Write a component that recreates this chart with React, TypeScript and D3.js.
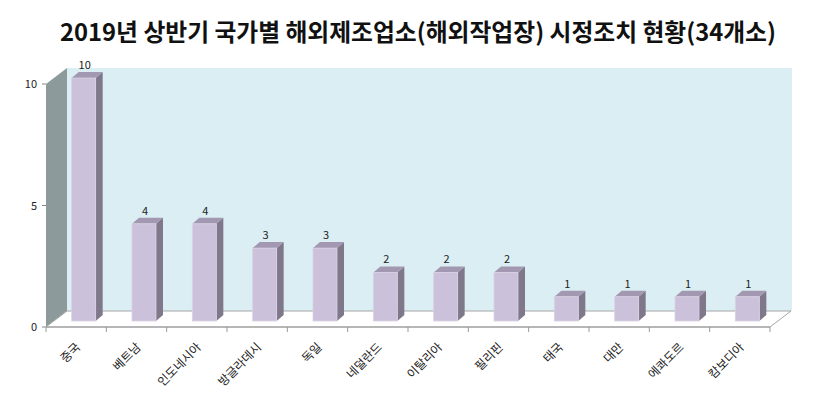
import React from "react";
import * as d3 from "d3";

const title = "2019년 상반기 국가별 해외제조업소(해외작업장) 시정조치 현황(34개소)";
const categories = ["중국", "베트남", "인도네시아", "방글라데시", "독일", "네덜란드", "이탈리아", "필리핀", "태국", "대만", "에콰도르", "캄보디아"];
const values = [10, 4, 4, 3, 3, 2, 2, 2, 1, 1, 1, 1];
const yTicks = [0, 5, 10];

const W = 813, H = 394;
const left = 46, right = 770;
const floorY = 327;
const depthX = 21, depthY = -16; // floor depth
const barDX = 7.5, barDY = -6; // bar front offset into depth
const barSX = 7, barSY = -6; // bar depth
const barW = 24;
const font = "'Noto Sans CJK KR', 'Noto Sans', sans-serif";

export default function App() {
  const x = d3.scaleBand<string>().domain(categories).range([left, right]);
  const y = d3.scaleLinear().domain([0, 10]).range([floorY, 84]);
  const bw = x.bandwidth();
  const wallTop = y(10) + depthY;

  return (
    <svg width={W} height={H} style={{ display: "block", position: "absolute", left: 0, top: 0 }}>
      <rect width={W} height={H} fill="#fff" />
      <text x={418} y={41} textAnchor="middle" fontFamily={font} fontWeight={700} fontSize={24}
        textLength={716} lengthAdjust="spacingAndGlyphs" fill="#111">{title}</text>
      {/* back wall */}
      <rect x={left + depthX} y={wallTop} width={right - left + 1} height={floorY + depthY - wallTop} fill="#DBEEF3" />
      {/* side wall */}
      <polygon points={`${left},${y(10)} ${left + depthX},${wallTop} ${left + depthX},${floorY + depthY} ${left},${floorY}`} fill="#8D9A9B" />
      {/* floor */}
      <polygon points={`${left},${floorY} ${right},${floorY} ${right + depthX},${floorY + depthY} ${left + depthX},${floorY + depthY}`} fill="#fff" stroke="#a6a6a6" strokeWidth={1} />
      {/* value axis ticks & labels */}
      {yTicks.map((t) => (
        <g key={t}>
          <line x1={left - 4} x2={left} y1={y(t)} y2={y(t)} stroke="#888" />
          <text x={37} y={y(t) + 4} textAnchor="end" fontFamily={font} fontSize={11} fill="#222">{t}</text>
        </g>
      ))}
      {/* category axis */}
      <line x1={left} x2={right} y1={floorY} y2={floorY} stroke="#999" />
      {d3.range(categories.length + 1).map((i) => {
        const xx = left + i * bw;
        return <line key={i} x1={xx} x2={xx} y1={floorY} y2={floorY + 5} stroke="#999" />;
      })}
      {/* bars */}
      {categories.map((c, i) => {
        const cx = (x(c) as number) + bw / 2 + barDX;
        const x0 = cx - barW / 2, x1 = cx + barW / 2;
        const yb = floorY + barDY;
        const yt = y(values[i]) + barDY;
        return (
          <g key={c}>
            <polygon points={`${x1},${yt} ${x1 + barSX},${yt + barSY} ${x1 + barSX},${yb + barSY} ${x1},${yb}`} fill="#7F778A" />
            <polygon points={`${x0},${yt} ${x0 + barSX},${yt + barSY} ${x1 + barSX},${yt + barSY} ${x1},${yt}`} fill="#A398B1" />
            <rect x={x0} y={yt} width={barW} height={yb - yt} fill="#CCC1DA" stroke="#DAD2E4" strokeWidth={0.8} />
            <text x={cx + 1} y={yt - 9} textAnchor="middle" fontFamily={font} fontSize={11} fill="#222">{values[i]}</text>
          </g>
        );
      })}
      {/* category labels */}
      {categories.map((c) => {
        const cx = (x(c) as number) + bw / 2;
        return (
          <text key={c} transform={`translate(${cx + 5},${floorY + 21}) rotate(-45)`} textAnchor="end"
            fontFamily={font} fontSize={12} fill="#222">{c}</text>
        );
      })}
    </svg>
  );
}
